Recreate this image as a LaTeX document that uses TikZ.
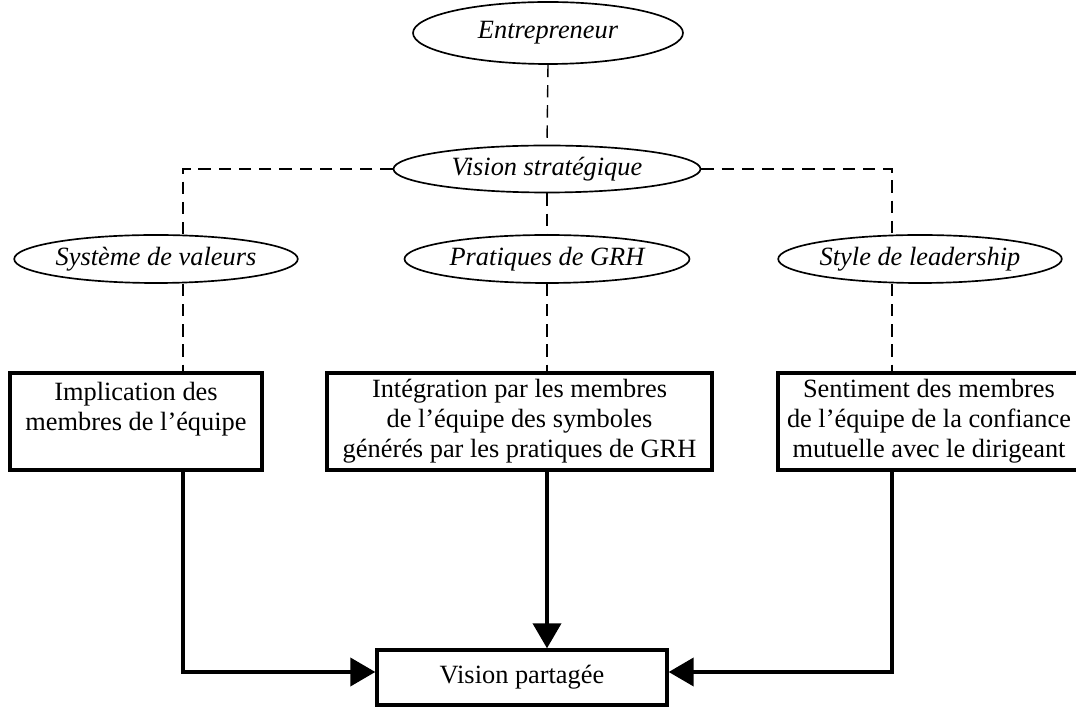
\documentclass[tikz,border=0pt]{standalone}
\usepackage{fontspec}
\setmainfont{Liberation Serif}
\usetikzlibrary{calc,shapes.geometric,arrows.meta}

\tikzset{
    oval/.style={draw, ellipse, line width=0.95pt, inner sep=0pt, font=\fontsize{15}{17}\selectfont\itshape},
    box/.style={draw, line width=1.9pt, inner sep=2pt, align=center, font=\fontsize{15}{17}\selectfont},
    link/.style={dash pattern=on 7pt off 4.5pt, line width=0.8pt},
    flow/.style={line width=2.2pt, -{Triangle[length=0.5cm, width=0.56cm]}},
}

\begin{document}
\begin{tikzpicture}
    \useasboundingbox (0,0) rectangle (21.52,14.14);

    % Vision
    \node[oval, minimum width=5.4cm, minimum height=1.24cm] (entr) at (10.96,13.48) {Entrepreneur};
    \node[oval, minimum width=6.14cm, minimum height=0.94cm] (vstrat) at (10.94,10.76) {Vision stratégique};

    % Levers
    \node[oval, minimum width=5.36cm, minimum height=0.96cm] (valeurs) at (3.12,8.96) {Système de valeurs};
    \node[oval, minimum width=5.7cm, minimum height=0.96cm] (grh) at (10.94,8.96) {Pratiques de GRH};
    \node[oval, minimum width=5.3cm, minimum height=0.96cm] (lead) at (18.4,8.96) {Style de leadership};

    % Effects on the team
    \node[box, minimum width=5.04cm, minimum height=1.94cm] (impl) at (2.72,5.71)
        {Implication des\\membres de l'équipe\\\mbox{}};
    \node[box, minimum width=7.7cm, minimum height=1.94cm] (integ) at (10.39,5.71)
        {Intégration par les membres\\de l'équipe des symboles\\générés par les pratiques de GRH};
    \node[box, minimum width=6.04cm, minimum height=1.94cm] (conf) at (18.58,5.71)
        {Sentiment des membres\\de l'équipe de la confiance\\mutuelle avec le dirigeant};

    \node[box, minimum width=5.8cm, minimum height=1.1cm] (partage) at (10.44,0.59) {Vision partagée};

    % Columns
    \coordinate (cl) at (3.66,10.76);
    \coordinate (cr) at (17.84,10.76);
    \coordinate (hl) at (3.66,0.7);
    \coordinate (hr) at (17.84,0.7);

    % Dashed links
    \draw[link] (entr.south) -- (vstrat.north);
    \draw[link] (vstrat.west) -- (cl) -- (cl |- valeurs.north);
    \draw[link] (vstrat.east) -- (cr) -- (cr |- lead.north);
    \draw[link] (vstrat.south) -- (grh.north);
    \draw[link] (cl |- valeurs.south) -- (cl |- impl.north);
    \draw[link] (grh.south) -- (grh.south |- integ.north);
    \draw[link] (cr |- lead.south) -- (cr |- conf.north);

    % Arrows to the shared vision
    \draw[flow] (hl |- impl.south) -- (hl) -- (partage.west |- hl);
    \draw[flow] (grh.south |- integ.south) -- (grh.south |- partage.north);
    \draw[flow] (hr |- conf.south) -- (hr) -- (partage.east |- hr);
\end{tikzpicture}
\end{document}
